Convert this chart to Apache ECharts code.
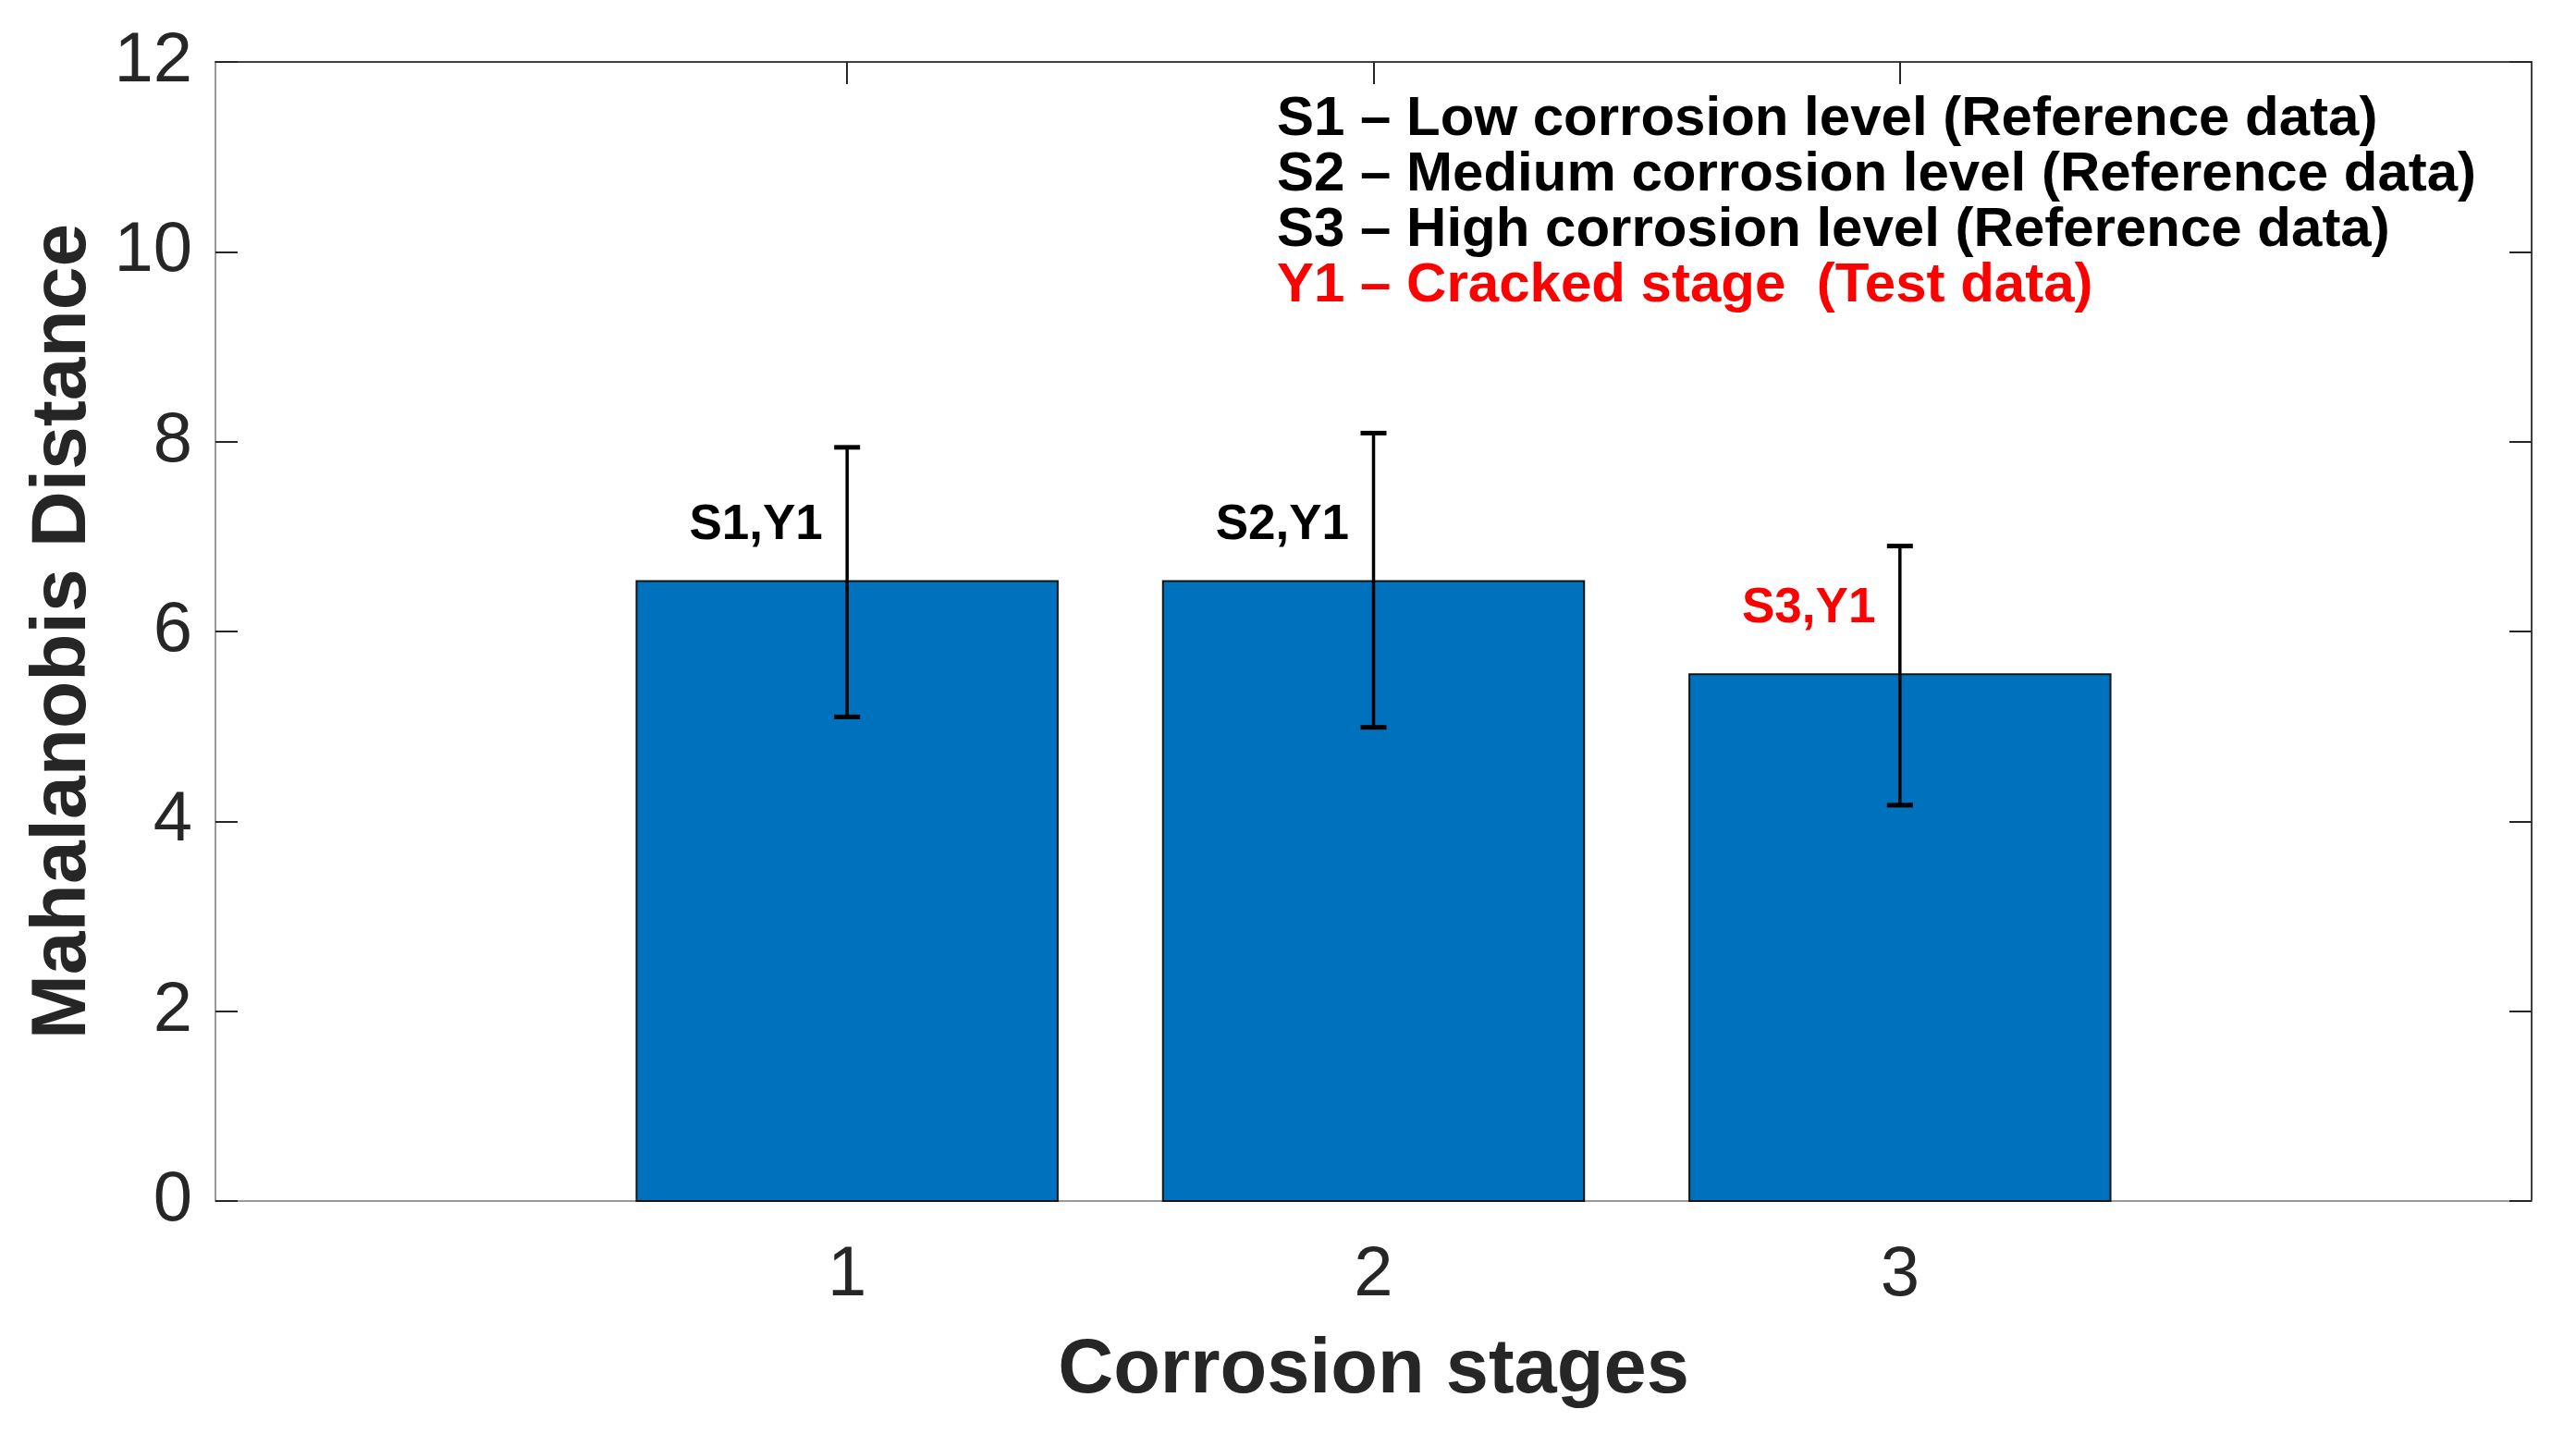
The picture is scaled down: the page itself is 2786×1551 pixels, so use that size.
<!DOCTYPE html>
<html>
<head>
<meta charset="utf-8">
<title>Mahalanobis Distance - corrosion stages</title>
<script src="https://cdn.jsdelivr.net/npm/echarts@6.0.0/dist/echarts.min.js"></script>
<style>
  html, body { margin: 0; padding: 0; background: #fff; }
  #chart { width: 2786px; height: 1551px; }
</style>
</head>
<body>
<div id="chart"></div>
<script>
// data
const stages = [1, 2, 3]
const mdValues = [6.53, 6.53, 5.55]
const errLow = [5.10, 4.99, 4.17]
const errHigh = [7.94, 8.09, 6.90]
const yTicks = [0, 2, 4, 6, 8, 10, 12]

// pair labels placed in data coords (left aligned, like matlab text())
const pairLabels = ['S1,Y1', 'S2,Y1', 'S3,Y1']
const pairLabelX = [0.7, 1.7, 2.7]
const pairLabelY = [7.12, 7.12, 6.24]
const pairLabelColor = ['#000000', '#000000', '#ff0000']

const legendLines = [
  'S1 \u2013 Low corrosion level (Reference data)',
  'S2 \u2013 Medium corrosion level (Reference data)',
  'S3 \u2013 High corrosion level (Reference data)',
  'Y1 \u2013 Cracked stage  (Test data)'
]

const FONT = '"Liberation Sans", Arial, Helvetica, sans-serif'
const barHalf = 0.4
const capHalf = 14

const chart = echarts.init(document.getElementById('chart'), null, { renderer: 'canvas' })

const tickStyle = { color: '#262626', width: 2 }

const option = {
  backgroundColor: '#ffffff',
  animation: false,
  grid: { left: 233, right: 48, top: 67, bottom: 252, containLabel: false },
  xAxis: [
    {
      type: 'value', position: 'bottom', min: -0.2, max: 4.2,
      axisLine: { show: true, onZero: false, lineStyle: { color: '#9a9a9a', width: 2 } },
      axisTick: { show: true, inside: true, length: 24, customValues: stages, lineStyle: tickStyle },
      axisLabel: { customValues: stages, fontSize: 76, color: '#262626', margin: 43, fontFamily: FONT },
      splitLine: { show: false },
      name: 'Corrosion stages', nameLocation: 'middle', nameGap: 143,
      nameTextStyle: { fontSize: 83, fontWeight: 'bold', color: '#262626', fontFamily: FONT }
    },
    {
      type: 'value', position: 'top', min: -0.2, max: 4.2,
      axisLine: { show: true, onZero: false, lineStyle: { color: '#404040', width: 2 } },
      axisTick: { show: true, inside: true, length: 24, customValues: stages, lineStyle: tickStyle },
      axisLabel: { show: false },
      splitLine: { show: false }
    }
  ],
  yAxis: [
    {
      type: 'value', position: 'left', min: 0, max: 12, interval: 2,
      axisLine: { show: true, onZero: false, lineStyle: { color: '#9a9a9a', width: 2 } },
      axisTick: { show: true, inside: true, length: 24, customValues: yTicks, lineStyle: tickStyle },
      axisLabel: { customValues: yTicks, fontSize: 76, color: '#262626', margin: 25, fontFamily: FONT,
        padding: [6, 0, 0, 0] },
      splitLine: { show: false },
      name: 'Mahalanobis Distance', nameLocation: 'middle', nameGap: 122, nameRotate: 90,
      nameTextStyle: { fontSize: 84, fontWeight: 'bold', color: '#262626', fontFamily: FONT }
    },
    {
      type: 'value', position: 'right', min: 0, max: 12, interval: 2,
      axisLine: { show: true, onZero: false, lineStyle: { color: '#404040', width: 2 } },
      axisTick: { show: true, inside: true, length: 24, customValues: yTicks, lineStyle: tickStyle },
      axisLabel: { show: false },
      splitLine: { show: false }
    }
  ],
  graphic: [
    {
      type: 'text', left: 1381, top: 99, z: 100,
      style: {
        text: legendLines.slice(0, 3).map(t => '{k|' + t + '}').join('\n') + '\n{r|' + legendLines[3] + '}',
        rich: {
          k: { fill: '#000000', fontSize: 60, fontWeight: 'bold', fontFamily: FONT, lineHeight: 60 },
          r: { fill: '#ff0000', fontSize: 60, fontWeight: 'bold', fontFamily: FONT, lineHeight: 60 }
        }
      }
    }
  ],
  series: [
    {
      name: 'bars', type: 'custom', xAxisIndex: 0, yAxisIndex: 0, z: 2,
      data: stages.map((s, i) => [s, mdValues[i]]),
      renderItem(params, api) {
        const x = api.value(0), v = api.value(1)
        const p0 = api.coord([x - barHalf, v])
        const p1 = api.coord([x + barHalf, 0])
        return {
          type: 'rect',
          shape: { x: p0[0], y: p0[1], width: p1[0] - p0[0], height: p1[1] - p0[1] },
          style: { fill: '#0072BD', stroke: '#141414', lineWidth: 2 }
        }
      }
    },
    {
      name: 'error', type: 'custom', xAxisIndex: 0, yAxisIndex: 0, z: 5,
      data: stages.map((s, i) => [s, errLow[i], errHigh[i]]),
      renderItem(params, api) {
        const x = api.value(0)
        const lo = api.coord([x, api.value(1)])
        const hi = api.coord([x, api.value(2)])
        const st = { stroke: '#000000', lineWidth: 3.5 }
        return {
          type: 'group',
          children: [
            { type: 'line', shape: { x1: lo[0], y1: lo[1], x2: hi[0], y2: hi[1] }, style: st },
            { type: 'line', shape: { x1: lo[0] - capHalf, y1: lo[1], x2: lo[0] + capHalf, y2: lo[1] }, style: { stroke: '#000000', lineWidth: 5 } },
            { type: 'line', shape: { x1: hi[0] - capHalf, y1: hi[1], x2: hi[0] + capHalf, y2: hi[1] }, style: { stroke: '#000000', lineWidth: 5 } }
          ]
        }
      }
    },
    {
      name: 'pair labels', type: 'custom', xAxisIndex: 0, yAxisIndex: 0, z: 6,
      data: pairLabelX.map((x, i) => [x, pairLabelY[i]]),
      renderItem(params, api) {
        const i = params.dataIndex
        const p = api.coord([api.value(0), api.value(1)])
        return {
          type: 'text',
          x: p[0], y: p[1],
          style: {
            text: pairLabels[i],
            fill: pairLabelColor[i],
            fontSize: 53, fontWeight: 'bold', fontFamily: FONT,
            align: 'left', verticalAlign: 'middle'
          }
        }
      }
    }
  ]
}

chart.setOption(option)
window.addEventListener('resize', function () { chart.resize() })
</script>
</body>
</html>
